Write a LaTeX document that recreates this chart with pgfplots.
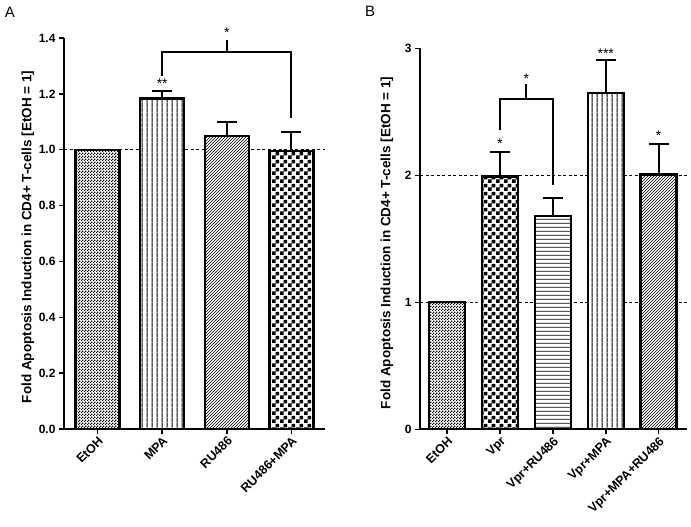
\documentclass[border=0pt]{standalone}
\usepackage{pgfplots}
\pgfplotsset{compat=1.18}
\usepackage{fontspec}
\setmainfont{Liberation Sans}
\usetikzlibrary{patterns}
\pgfdeclarepatternformonly{finechecker}{\pgfqpoint{0pt}{0pt}}{\pgfqpoint{3pt}{3pt}}{\pgfqpoint{3pt}{3pt}}{%
 \pgfpathrectangle{\pgfqpoint{0pt}{0pt}}{\pgfqpoint{1.5pt}{1.5pt}}%
 \pgfpathrectangle{\pgfqpoint{1.5pt}{1.5pt}}{\pgfqpoint{1.5pt}{1.5pt}}%
 \pgfusepath{fill}}
\pgfdeclarepatternformonly{checker}{\pgfqpoint{0pt}{0pt}}{\pgfqpoint{8pt}{8pt}}{\pgfqpoint{8pt}{8pt}}{%
 \pgfpathrectangle{\pgfqpoint{0pt}{0pt}}{\pgfqpoint{4pt}{4pt}}%
 \pgfpathrectangle{\pgfqpoint{4pt}{4pt}}{\pgfqpoint{4pt}{4pt}}%
 \pgfusepath{fill}}
\pgfdeclarepatternformonly{myvlines}{\pgfqpoint{0pt}{0pt}}{\pgfqpoint{5pt}{5pt}}{\pgfqpoint{5pt}{5pt}}{%
 \pgfsetlinewidth{1pt}\pgfpathmoveto{\pgfqpoint{2.5pt}{-0.5pt}}\pgfpathlineto{\pgfqpoint{2.5pt}{5.5pt}}\pgfusepath{stroke}}
\pgfdeclarepatternformonly{myhlines}{\pgfqpoint{0pt}{0pt}}{\pgfqpoint{4.3pt}{4.3pt}}{\pgfqpoint{4.3pt}{4.3pt}}{%
 \pgfsetlinewidth{0.9pt}\pgfpathmoveto{\pgfqpoint{-0.5pt}{2pt}}\pgfpathlineto{\pgfqpoint{4.8pt}{2pt}}\pgfusepath{stroke}}
\pgfdeclarepatternformonly{mydiag}{\pgfqpoint{-1pt}{-1pt}}{\pgfqpoint{4pt}{4pt}}{\pgfqpoint{3pt}{3pt}}{%
 \pgfsetlinewidth{0.7pt}\pgfpathmoveto{\pgfqpoint{0pt}{0pt}}\pgfpathlineto{\pgfqpoint{3.1pt}{3.1pt}}\pgfusepath{stroke}}

\pgfplotsset{
  mybar/.style={ybar, bar width=#1, bar shift=0pt, draw=black, line width=2.4pt, fill=white, forget plot},
  myerr/.style={draw=none, forget plot, error bars/.cd, y dir=plus, y explicit,
     error bar style={draw=black, line width=2pt, solid},
     error mark options={draw=black, rotate=90, mark size=10pt, line width=2pt}},
  mydash/.style={black, line width=1.3pt, dash pattern=on 3pt off 2.5pt, forget plot},
  mybrk/.style={black, line width=2pt, forget plot},
  common/.style={
    scale only axis, clip=false,
    axis x line=bottom, axis y line=left,
    axis line style={-, line width=2pt},
    tick align=outside, major tick length=5pt,
    tick style={black, line width=1.5pt},
    ymin=0,
    yticklabel style={font=\bfseries\fontsize{12}{14}\selectfont},
    xticklabel style={font=\bfseries\fontsize{12.5}{14}\selectfont, rotate=45, anchor=north east, inner sep=1pt},
    /pgf/number format/assume math mode=true,
  },
}
\newcommand{\starfont}{\fontsize{14}{16}\selectfont}
\newcommand{\ylab}{\bfseries\fontsize{13.5}{15}\selectfont Fold Apoptosis Induction in CD4+ T-cells [EtOH = 1]}

\begin{document}
\begin{tikzpicture}
\path[use as bounding box] (0,0) rectangle (691pt,527pt);
\node[font=\fontsize{15}{17}\selectfont] at (10pt,515pt) {A};
\node[font=\fontsize{15}{17}\selectfont] at (370pt,516pt) {B};
\node[rotate=90] at (28pt,290pt) {\ylab};
\node[rotate=90] at (387pt,284pt) {\ylab};

% Panel A
\begin{axis}[common,
  at={(64pt,98pt)}, anchor=south west,
  width=261pt, height=391pt,
  xmin=-0.52, xmax=3.52, ymax=1.4,
  xtick={0,1,2,3},
  ytick={0,0.2,0.4,0.6,0.8,1.0,1.2,1.4},
  yticklabel style={/pgf/number format/.cd, fixed, fixed zerofill, precision=1},
  xticklabels={EtOH,MPA,RU486,RU486+MPA},
]
\addplot[mydash] coordinates {(-0.52,1) (3.52,1)};
\addplot[mybar=44pt, postaction={pattern=finechecker}] coordinates {(0,1.0)};
\addplot[mybar=44pt, postaction={pattern=myvlines}] coordinates {(1,1.184)};
\addplot[mybar=44pt, postaction={pattern=mydiag}] coordinates {(2,1.049)};
\addplot[mybar=44pt, postaction={pattern=checker}] coordinates {(3,0.995)};
\addplot[myerr] coordinates {(1,1.184) +- (0,0.025) (2,1.049) +- (0,0.050) (3,0.995) +- (0,0.067)};
\addplot[mybrk] coordinates {(1,1.263) (1,1.35) (3,1.35) (3,1.113)};
\addplot[mybrk] coordinates {(2,1.35) (2,1.394)};
\node[font=\starfont] at (axis cs:1,1.235) {**};
\node[font=\starfont] at (axis cs:2,1.418) {*};
\end{axis}

% Panel B
\begin{axis}[common,
  at={(420pt,97.7pt)}, anchor=south west,
  width=267pt, height=381pt,
  xmin=-0.51, xmax=4.535, ymax=3,
  xtick={0,1,2,3,4},
  ytick={0,1,2,3},
  y axis line style={line width=1.3pt},
  xticklabels={EtOH,Vpr,Vpr+RU486,Vpr+MPA,Vpr+MPA+RU486},
]
\addplot[mydash] coordinates {(-0.51,1) (4.535,1)};
\addplot[mydash] coordinates {(-0.51,2) (4.535,2)};
\addplot[mybar=36pt, postaction={pattern=finechecker}] coordinates {(0,1.0)};
\addplot[mybar=36pt, postaction={pattern=checker}] coordinates {(1,1.99)};
\addplot[mybar=36pt, postaction={pattern=myhlines}] coordinates {(2,1.68)};
\addplot[mybar=36pt, postaction={pattern=myvlines}] coordinates {(3,2.646)};
\addplot[mybar=36pt, postaction={pattern=mydiag}] coordinates {(4,2.005)};
\addplot[myerr] coordinates {(1,1.99) +- (0,0.19) (2,1.68) +- (0,0.145) (3,2.646) +- (0,0.26) (4,2.005) +- (0,0.245)};
\addplot[mybrk] coordinates {(1,2.357) (1,2.60) (2,2.60) (2,1.924)};
\addplot[mybrk] coordinates {(1.5,2.60) (1.5,2.717)};
\node[font=\starfont] at (axis cs:1,2.25) {*};
\node[font=\starfont] at (axis cs:1.5,2.76) {*};
\node[font=\starfont] at (axis cs:3,2.96) {***};
\node[font=\starfont] at (axis cs:4,2.31) {*};
\end{axis}
\end{tikzpicture}
\end{document}
